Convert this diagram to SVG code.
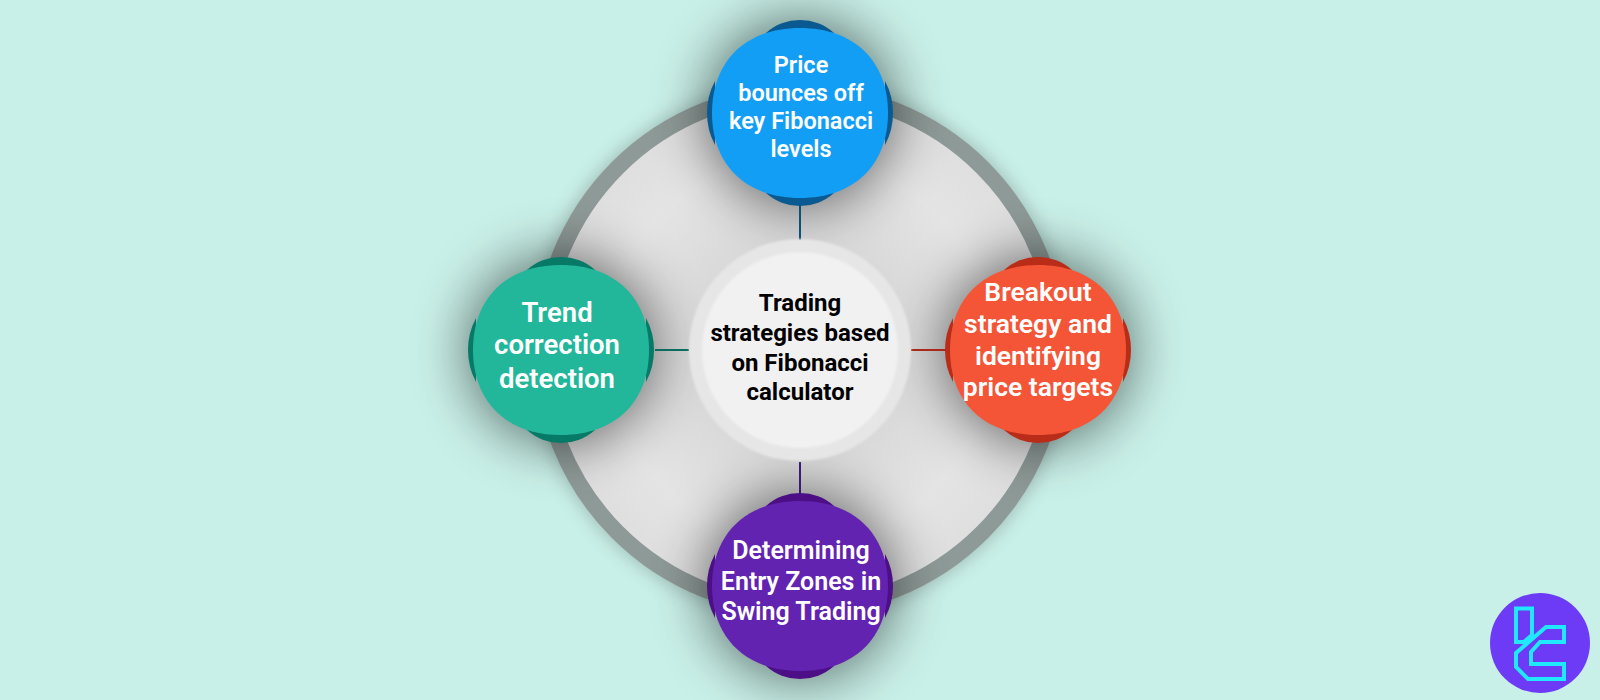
<svg xmlns="http://www.w3.org/2000/svg" width="1600" height="700" viewBox="0 0 1600 700">
<defs>
<filter id="sh" x="-100%" y="-100%" width="300%" height="300%"><feGaussianBlur stdDeviation="27"/></filter>
<filter id="sr" x="-30%" y="-30%" width="160%" height="160%"><feGaussianBlur stdDeviation="10"/></filter>
<filter id="sc" x="-30%" y="-30%" width="160%" height="160%"><feGaussianBlur stdDeviation="1"/></filter>
<radialGradient id="disk" cx="50%" cy="50%" r="50%"><stop offset="0.4" stop-color="#d8d8d8"/><stop offset="0.75" stop-color="#e4e4e4"/><stop offset="1" stop-color="#dedede"/></radialGradient>
<path id="front" d="M0-85C54-85 88-52 88 0C88 52 54 85 0 85C-54 85-88 52-88 0C-88-52-54-85 0-85Z"/>
<path id="lobes" d="M-34-80A51 51 0 0 1 34-80ZM-34 80A51 51 0 0 0 34 80ZM-85-32A68 68 0 0 0-85 32ZM85-32A68 68 0 0 1 85 32Z"/>
</defs>
<style>
text{font-family:Roboto,"Liberation Sans",sans-serif;font-weight:600;text-anchor:middle}
.w{fill:#fff}.k{fill:#000;font-weight:700}.s{fill:#000;opacity:.52}
.c{stroke-width:2;fill:none}
.lg{fill:none;stroke:#1fe8ff;stroke-width:4}
</style>
<rect width="1600" height="700" fill="#c9f0e8"/>
<g id="disk-ring">
<circle cx="800" cy="350" r="258" fill="#000" opacity=".25" filter="url(#sr)" stroke="#000" stroke-width="16"/>
<circle cx="800" cy="350" r="258" fill="url(#disk)" stroke="#8e9a97" stroke-width="16"/>
</g>
<g id="shadows">
<circle cx="800" cy="113" r="95" class="s" filter="url(#sh)"/>
<circle cx="1038" cy="350" r="95" class="s" filter="url(#sh)"/>
<circle cx="800" cy="586" r="95" class="s" filter="url(#sh)"/>
<circle cx="561" cy="350" r="95" class="s" filter="url(#sh)"/>
</g>
<g id="connectors">
<line class="c" x1="800" y1="205" x2="800" y2="240" stroke="#0b4f7a"/>
<line class="c" x1="911" y1="350" x2="945" y2="350" stroke="#a8281a"/>
<line class="c" x1="800" y1="462" x2="800" y2="495" stroke="#3d1a78"/>
<line class="c" x1="655" y1="350" x2="689" y2="350" stroke="#0b6b5c"/>
</g>
<g id="center">
<circle cx="800" cy="350" r="111" fill="#e6e6e6" filter="url(#sc)"/>
<circle cx="800" cy="350" r="98" fill="#f1f1f1" filter="url(#sc)"/>
<text class="k" font-size="24"><tspan x="800" y="311">Trading</tspan><tspan x="800" y="341">strategies based</tspan><tspan x="800" y="371">on Fibonacci</tspan><tspan x="800" y="400">calculator</tspan></text>
</g>
<g id="node-top" transform="translate(800 113)">
<use href="#lobes" fill="#0a5a92"/><use href="#front" fill="#129ef5"/>
<text class="w" font-size="23.500"><tspan x="1" y="-40">Price</tspan><tspan x="1" y="-12">bounces off</tspan><tspan x="1" y="16">key Fibonacci</tspan><tspan x="1" y="44">levels</tspan></text>
</g>
<g id="node-right" transform="translate(1038 350)">
<use href="#lobes" fill="#b92d18"/><use href="#front" fill="#f45537"/>
<text class="w" font-size="26.500"><tspan x="0" y="-49">Breakout</tspan><tspan x="0" y="-17">strategy and</tspan><tspan x="0" y="15">identifying</tspan><tspan x="0" y="46">price targets</tspan></text>
</g>
<g id="node-bottom" transform="translate(800 586)">
<use href="#lobes" fill="#4c0f86"/><use href="#front" fill="#6223b0"/>
<text class="w" font-size="25"><tspan x="1" y="-27">Determining</tspan><tspan x="1" y="4">Entry Zones in</tspan><tspan x="1" y="34">Swing Trading</tspan></text>
</g>
<g id="node-left" transform="translate(561 350)">
<use href="#lobes" fill="#067a66"/><use href="#front" fill="#22b79b"/>
<text class="w" font-size="27.500"><tspan x="-4" y="-28">Trend</tspan><tspan x="-4" y="4">correction</tspan><tspan x="-4" y="38">detection</tspan></text>
</g>
<g id="logo">
<circle cx="1540" cy="643" r="50" fill="#6d3bf5"/>
<path class="lg" d="M1516 608.500H1532V635L1524 642H1516Z"/>
<path class="lg" d="M1546 627H1564V642H1540L1531 652V664H1564V679H1528L1516 667V653Z"/>
</g>
</svg>
